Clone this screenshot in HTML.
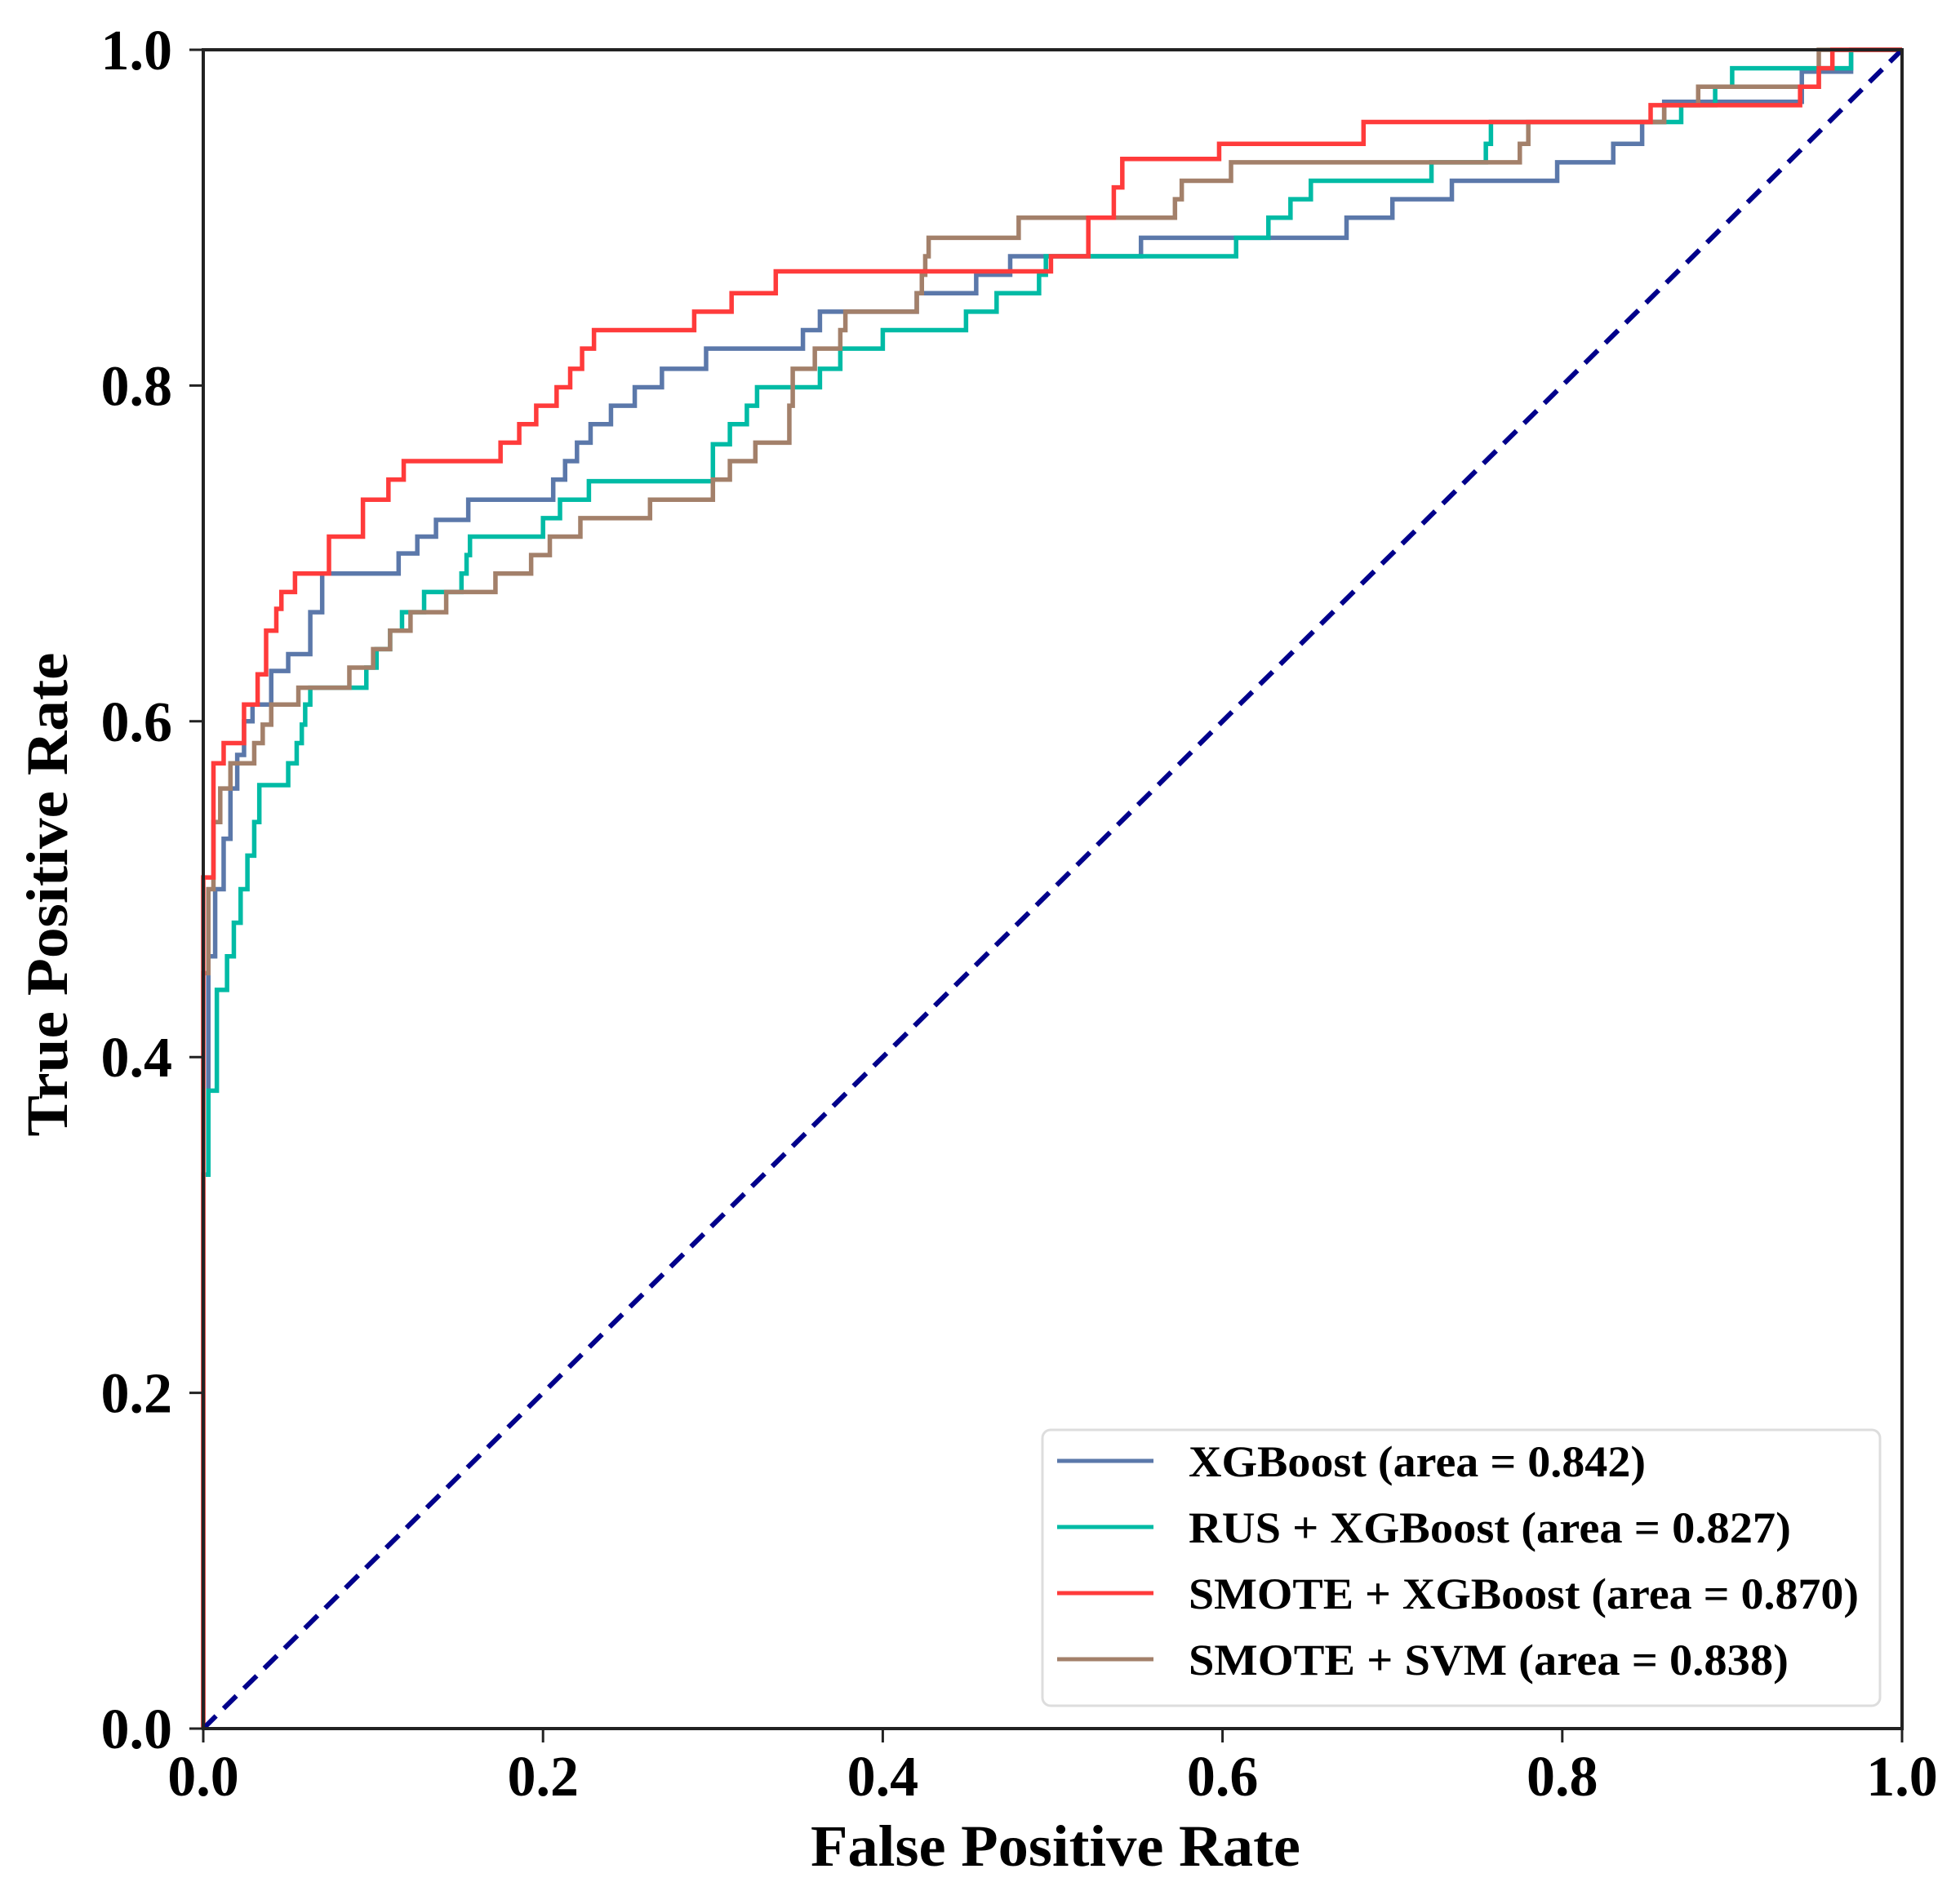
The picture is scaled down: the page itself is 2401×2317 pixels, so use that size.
<!DOCTYPE html>
<html><head><meta charset="utf-8"><style>
html,body{margin:0;padding:0;background:#fff;}
svg{display:block;font-family:"Liberation Serif",serif;font-weight:bold;}
</style></head><body>
<svg id="chart" width="2401" height="2317" viewBox="0 0 2401 2317" xmlns="http://www.w3.org/2000/svg">
<rect width="2401" height="2317" fill="#fff"/>
<g id="plot"></g>
<g id="axes"></g>
<text x="1293" y="2286" font-size="72" text-anchor="middle" textLength="600" lengthAdjust="spacingAndGlyphs">False Positive Rate</text>
<text x="0" y="0" font-size="72" text-anchor="middle" textLength="593" lengthAdjust="spacingAndGlyphs" transform="translate(82,1096) rotate(-90)">True Positive Rate</text>
<g id="legend"></g>
</svg>
<script>
const X0=249,X1=2330,Y0=2118,Y1=61;
function sx(v){return X0+(X1-X0)*v;}
function sy(v){return Y0-(Y0-Y1)*v;}
const ticks=[0,0.2,0.4,0.6,0.8,1.0];
const tickLabels=["0.0","0.2","0.4","0.6","0.8","1.0"];
const seriesNames=["XGBoost (area = 0.842)","RUS + XGBoost (area = 0.827)","SMOTE + XGBoost (area = 0.870)","SMOTE + SVM (area = 0.838)"];
const seriesColors=["#5b78aa","#00bba5","#ff3b3b","#a3806a"];
// step points: fpr where tpr jumps, new tpr
const xgbF=[0,0.003,0.007,0.012,0.016,0.02,0.024,0.029,0.04,0.05,0.063,0.07,0.115,0.126,0.137,0.156,0.206,0.213,0.22,0.228,0.24,0.254,0.27,0.296,0.353,0.363,0.42,0.455,0.475,0.552,0.673,0.7,0.735,0.797,0.83,0.847,0.86,0.941,0.97];
const xgbT=[0.33,0.46,0.5,0.53,0.56,0.58,0.6,0.61,0.63,0.64,0.665,0.688,0.7,0.71,0.72,0.732,0.744,0.755,0.766,0.777,0.788,0.799,0.81,0.822,0.833,0.844,0.855,0.866,0.877,0.888,0.9,0.911,0.922,0.933,0.944,0.957,0.969,0.987,1.0];
const rusF=[0,0.003,0.008,0.014,0.018,0.022,0.026,0.03,0.033,0.05,0.055,0.058,0.06,0.063,0.096,0.102,0.11,0.117,0.13,0.152,0.155,0.157,0.2,0.21,0.227,0.3,0.31,0.32,0.326,0.363,0.375,0.4,0.449,0.467,0.492,0.496,0.608,0.627,0.64,0.652,0.723,0.755,0.758,0.87,0.89,0.9,0.97];
const rusT=[0.33,0.38,0.44,0.46,0.48,0.5,0.52,0.54,0.562,0.575,0.587,0.598,0.61,0.62,0.632,0.643,0.654,0.665,0.677,0.688,0.699,0.71,0.721,0.732,0.743,0.765,0.777,0.788,0.799,0.81,0.822,0.833,0.844,0.855,0.866,0.877,0.888,0.9,0.911,0.922,0.933,0.944,0.957,0.967,0.978,0.989,1.0];
const smxF=[0,0.006,0.012,0.024,0.032,0.037,0.043,0.046,0.054,0.074,0.094,0.109,0.118,0.175,0.186,0.196,0.208,0.216,0.223,0.23,0.289,0.311,0.337,0.499,0.521,0.536,0.541,0.598,0.683,0.852,0.94,0.951,0.959];
const smxT=[0.507,0.575,0.587,0.61,0.628,0.654,0.667,0.677,0.688,0.71,0.732,0.744,0.755,0.766,0.777,0.788,0.799,0.81,0.822,0.833,0.844,0.855,0.868,0.877,0.9,0.918,0.935,0.944,0.957,0.967,0.978,0.989,1.0];
const svmF=[0,0.003,0.006,0.01,0.016,0.03,0.035,0.04,0.056,0.086,0.1,0.11,0.122,0.143,0.172,0.193,0.204,0.222,0.263,0.3,0.31,0.325,0.345,0.347,0.36,0.375,0.378,0.42,0.423,0.425,0.427,0.48,0.572,0.576,0.605,0.775,0.78,0.86,0.88,0.951];
const svmT=[0.45,0.5,0.54,0.56,0.575,0.587,0.598,0.61,0.62,0.632,0.643,0.654,0.665,0.677,0.688,0.699,0.71,0.721,0.732,0.744,0.755,0.766,0.788,0.81,0.822,0.833,0.844,0.855,0.866,0.877,0.888,0.9,0.911,0.922,0.933,0.944,0.957,0.967,0.978,1.0];
const seriesF=[xgbF,rusF,smxF,svmF];
const seriesT=[xgbT,rusT,smxT,svmT];
const NS="http://www.w3.org/2000/svg";
const plot=document.getElementById('plot'),axes=document.getElementById('axes'),legend=document.getElementById('legend');
function mk(tag,attrs,parent){const e=document.createElementNS(NS,tag);for(const k in attrs)e.setAttribute(k,attrs[k]);parent.appendChild(e);return e;}
const keys=["xgboost","rus-xgboost","smote-xgboost","smote-svm"];
const order=[0,1,3,2];
order.forEach(i=>{
  const F=seriesF[i],T=seriesT[i];
  let d="M"+sx(0)+","+sy(0)+" L"+sx(F[0])+","+sy(T[0]);
  let prev=T[0];
  for(let k=1;k<F.length;k++){d+=" L"+sx(F[k])+","+sy(prev)+" L"+sx(F[k])+","+sy(T[k]);prev=T[k];}
  d+=" L"+sx(1)+","+sy(1);
  const p=mk('path',{d:d,fill:'none',stroke:seriesColors[i],'stroke-width':5.5,'stroke-linejoin':'miter'},plot);
  
  
});
const diag=mk('line',{x1:sx(0),y1:sy(0),x2:sx(1),y2:sy(1),stroke:'#00008b','stroke-width':6,'stroke-dasharray':'22,13'},plot);


const frame=mk('rect',{x:X0,y:Y1,width:X1-X0,height:Y0-Y1,fill:'none',stroke:'#222','stroke-width':4},axes);


ticks.forEach((t,i)=>{
  const a=mk('line',{x1:sx(t),y1:Y0,x2:sx(t),y2:Y0+17,stroke:'#222','stroke-width':3},axes);
  
  
  const b=mk('text',{x:sx(t),y:Y0+82,'font-size':70,'text-anchor':'middle'},axes);
  b.textContent=tickLabels[i];
  
  
  const c=mk('line',{x1:X0-17,y1:sy(t),x2:X0,y2:sy(t),stroke:'#222','stroke-width':3},axes);
  
  
  const e=mk('text',{x:X0-38,y:sy(t)+24,'font-size':70,'text-anchor':'end'},axes);
  e.textContent=tickLabels[i];
  
  
});
const lb=mk('rect',{x:1277,y:1752,width:1026,height:338,rx:10,fill:'#fff',stroke:'#ddd','stroke-width':3},legend);


const lens=[560,738,821,735];
seriesNames.forEach((n,i)=>{
  const y=1790+81*i;
  const l=mk('line',{x1:1295,y1:y,x2:1413,y2:y,stroke:seriesColors[i],'stroke-width':5},legend);
  
  
  const t=mk('text',{x:1456,y:y+19,'font-size':54,textLength:lens[i],lengthAdjust:'spacingAndGlyphs'},legend);
  t.textContent=n;
  
  
});
</script>
</body></html>
